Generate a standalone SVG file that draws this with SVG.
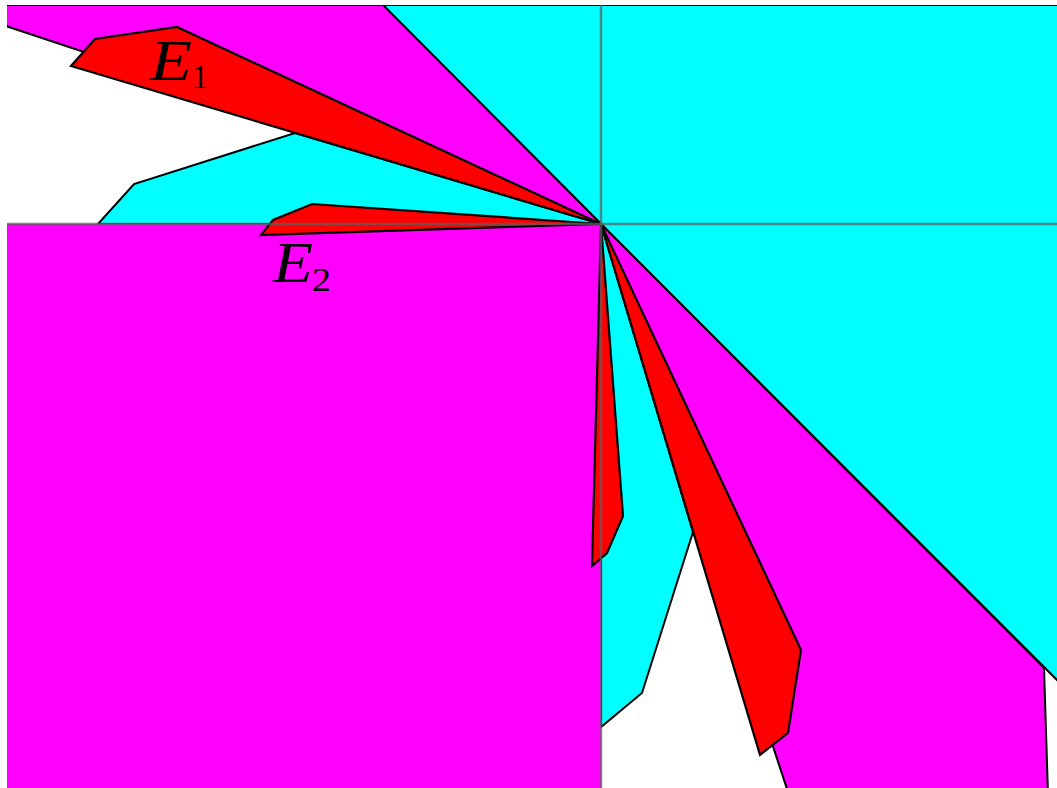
<svg xmlns="http://www.w3.org/2000/svg" width="1057" height="788" viewBox="0 0 1057 788">
<defs>
<style>
.cy{fill:#00ffff;stroke:#000;stroke-width:2;stroke-linejoin:miter}
.mg{fill:#ff00ff;stroke:#000;stroke-width:2}
.rd{fill:#ff0000;stroke:#000;stroke-width:2.2;stroke-linejoin:miter}
.ax{stroke:#5f5f5f;stroke-opacity:0.75;stroke-width:2.5;fill:none}
.lb{font-family:"Liberation Serif",serif;font-style:italic;fill:#000}
.sb{font-family:"Liberation Serif",serif;fill:#000}
</style>
<clipPath id="clip"><rect x="7" y="5" width="1050" height="783"/></clipPath>
</defs>
<rect width="1057" height="788" fill="#fff"/>
<g clip-path="url(#clip)">
<g id="regions">
<polygon id="cyan-main" class="cy" points="383,5 1060,5 1060,683 601,224"/>
<polygon id="cyan-left" class="cy" points="98,224 134,184 295,133 601,224"/>
<polygon id="cyan-low" class="cy" points="601,224 601,727 642,693 693,532"/>
<polygon id="magenta-ul" class="mg" points="0,5 383,5 601,224 0,24"/>
<rect id="magenta-ll" x="0" y="224" width="601" height="570" fill="#ff00ff"/>
<polygon id="magenta-lr" class="mg" points="601,224 1044,668 1048,795 789,795"/>
</g>
<g id="E1"><polygon class="rd" points="601,224 71,66 95,39 177,27"/></g>
<g id="E2"><polygon class="rd" points="601,224 261,235 273,220 312,204"/></g>
<g id="E3"><polygon class="rd" points="601,224 623,516 607,553 592,566"/></g>
<g id="E4"><polygon class="rd" points="601,224 801,650 788,733 760,755"/></g>
<g id="axes">
<line class="ax" x1="0" y1="224" x2="1057" y2="224"/>
<line class="ax" x1="601" y1="0" x2="601" y2="788"/>
</g>
</g>
<g id="labels">
<text class="lb" x="150" y="80" font-size="56" textLength="42" lengthAdjust="spacingAndGlyphs">E</text>
<text class="sb" x="192" y="88" font-size="33" textLength="16" lengthAdjust="spacingAndGlyphs">1</text>
<text class="lb" x="273" y="282" font-size="56" textLength="40" lengthAdjust="spacingAndGlyphs">E</text>
<text class="sb" x="312" y="291" font-size="33" textLength="19" lengthAdjust="spacingAndGlyphs">2</text>
</g>
</svg>
